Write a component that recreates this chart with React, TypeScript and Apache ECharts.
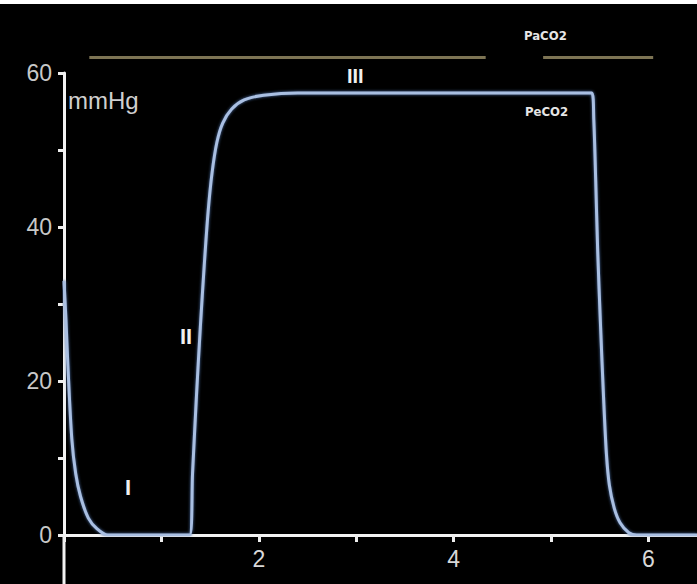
import React, { useEffect, useRef } from "react";
import * as echarts from "echarts";

const peTime = [0, 0.02, 0.04, 0.08, 0.12, 0.17, 0.25, 0.34, 0.45, 1.29, 1.32, 1.36, 1.40, 1.44, 1.48, 1.52, 1.57, 1.63, 1.72, 1.85, 2.05, 2.4, 5.42, 5.44, 5.46, 5.48, 5.51, 5.54, 5.57, 5.6, 5.65, 5.71, 5.8, 5.88, 6.5];
const peValue = [33, 28, 22, 12.5, 8, 5, 2.2, 0.8, 0, 0, 8, 18, 27, 35, 42, 47, 51, 53.5, 55.3, 56.5, 57.1, 57.4, 57.4, 54, 46, 37, 27, 18, 10.5, 6.5, 3.5, 1.6, 0.3, 0, 0];

const paTime = [0.26, 4.33, 4.6, 4.92, 6.05];
const paValue: (number | string)[] = [62, 62, "-", 62, 62];

const yTickLabels = [0, 20, 40, 60];
const xTickLabels = [2, 4, 6];

export default function App() {
  const ref = useRef<HTMLDivElement>(null);
  useEffect(() => {
    const chart = echarts.init(ref.current!, null, { renderer: "svg" });
    const font = "Liberation Sans, Arial, sans-serif";
    chart.setOption({
      animation: false,
      backgroundColor: "#000",
      grid: { left: 64, right: 0, top: 73, bottom: 49, outerBoundsMode: "none", containLabel: false },
      xAxis: {
        type: "value",
        min: 0,
        max: 6.5,
        interval: 1,
        axisLine: { onZero: true, lineStyle: { color: "#f2f2f2", width: 3 } },
        axisTick: { show: true, length: 7, lineStyle: { color: "#eee", width: 3 } },
        splitLine: { show: false },
        axisLabel: {
          color: "#d8d8d8",
          fontSize: 23,
          fontFamily: font,
          margin: 12,
          showMaxLabel: false,
          formatter: (v: number) => (xTickLabels.includes(v) ? String(v) : ""),
        },
      },
      yAxis: {
        type: "value",
        min: 0,
        max: 60,
        interval: 10,
        axisLine: { onZero: false, lineStyle: { color: "#f2f2f2", width: 3 } },
        axisTick: { show: true, length: 6, lineStyle: { color: "#eee", width: 3 } },
        splitLine: { show: false },
        axisLabel: {
          color: "#c8c8c8",
          fontSize: 23,
          fontFamily: font,
          margin: 12,
          formatter: (v: number) => (yTickLabels.includes(v) ? String(v) : ""),
        },
      },
      series: [
        {
          type: "line",
          name: "PeCO2",
          data: peTime.map((t, i) => [t, peValue[i]]),
          smooth: 0.3,
          showSymbol: false,
          lineStyle: { color: "#a9bfe2", width: 3, shadowBlur: 3, shadowColor: "#4d73ad" },
          z: 5,
        },
        {
          type: "line",
          name: "PaCO2",
          data: paTime.map((t, i) => [t, paValue[i]]),
          clip: false,
          showSymbol: false,
          connectNulls: false,
          lineStyle: { color: "#7d7454", width: 3 },
          z: 4,
        },
      ],
      graphic: [
        { type: "rect", left: 0, top: 0, shape: { width: 697, height: 4 }, style: { fill: "#fff" } },
        { type: "rect", left: 62.5, top: 535, shape: { width: 3, height: 49 }, style: { fill: "#f2f2f2" } },
        { type: "text", left: 68, top: 88, style: { text: "mmHg", fill: "#cfcfcf", font: `24px ${font}` } },
        { type: "text", left: 125, top: 476, style: { text: "I", fill: "#f0f0f0", font: `bold 22px ${font}` } },
        { type: "text", left: 180, top: 325, style: { text: "II", fill: "#f0f0f0", font: `bold 22px ${font}` } },
        { type: "text", left: 347, top: 66, style: { text: "III", fill: "#f0f0f0", font: `bold 20px ${font}` } },
        { type: "text", left: 524, top: 29, style: { text: "PaCO2", fill: "#e6e6e6", font: `bold 13px "DejaVu Sans Condensed", ${font}` } },
        { type: "text", left: 525, top: 105, style: { text: "PeCO2", fill: "#e6e6e6", font: `bold 13px "DejaVu Sans Condensed", ${font}` } },
      ],
    });
    return () => chart.dispose();
  }, []);
  return (
    <div
      ref={ref}
      style={{ position: "fixed", left: 0, top: 0, width: 697, height: 584, background: "#000" }}
    />
  );
}
